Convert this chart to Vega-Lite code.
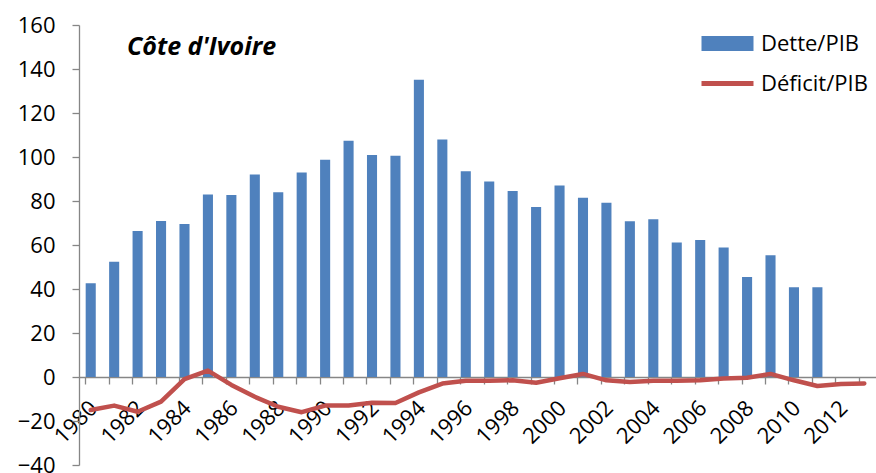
{
  "$schema": "https://vega.github.io/schema/vega-lite/v6.json",
  "width": 797,
  "height": 440,
  "autosize": "none",
  "padding": {"left": 79, "top": 25, "right": 0, "bottom": 8},
  "background": "white",
  "config": {"view": {"stroke": null}, "font": "Open Sans"},
  "title": {"text": "Côte d'Ivoire", "anchor": "start", "frame": "group", "orient": "top", "offset": -46, "dx": 48, "fontSize": 25, "fontStyle": "italic", "fontWeight": "bold", "font": "Open Sans", "color": "black"},
  "data": {"values": [
    {"year": 1980, "dette": 42.6, "deficit": -15.0},
    {"year": 1981, "dette": 52.4, "deficit": -13.0},
    {"year": 1982, "dette": 66.4, "deficit": -15.8},
    {"year": 1983, "dette": 70.9, "deficit": -11.2},
    {"year": 1984, "dette": 69.5, "deficit": -1.0},
    {"year": 1985, "dette": 83.0, "deficit": 2.9},
    {"year": 1986, "dette": 82.7, "deficit": -3.6},
    {"year": 1987, "dette": 92.1, "deficit": -9.0},
    {"year": 1988, "dette": 84.0, "deficit": -13.5},
    {"year": 1989, "dette": 93.0, "deficit": -16.0},
    {"year": 1990, "dette": 98.8, "deficit": -13.0},
    {"year": 1991, "dette": 107.4, "deficit": -13.0},
    {"year": 1992, "dette": 100.9, "deficit": -11.7},
    {"year": 1993, "dette": 100.6, "deficit": -11.8},
    {"year": 1994, "dette": 135.1, "deficit": -7.0},
    {"year": 1995, "dette": 108.0, "deficit": -3.0},
    {"year": 1996, "dette": 93.5, "deficit": -1.7},
    {"year": 1997, "dette": 88.9, "deficit": -1.7},
    {"year": 1998, "dette": 84.5, "deficit": -1.5},
    {"year": 1999, "dette": 77.3, "deficit": -2.6},
    {"year": 2000, "dette": 87.1, "deficit": -0.6},
    {"year": 2001, "dette": 81.5, "deficit": 1.4},
    {"year": 2002, "dette": 79.2, "deficit": -1.5},
    {"year": 2003, "dette": 70.8, "deficit": -2.3},
    {"year": 2004, "dette": 71.7, "deficit": -1.7},
    {"year": 2005, "dette": 61.1, "deficit": -1.7},
    {"year": 2006, "dette": 62.3, "deficit": -1.5},
    {"year": 2007, "dette": 58.9, "deficit": -0.7},
    {"year": 2008, "dette": 45.5, "deficit": -0.3},
    {"year": 2009, "dette": 55.3, "deficit": 1.4},
    {"year": 2010, "dette": 40.8, "deficit": -1.5},
    {"year": 2011, "dette": 40.8, "deficit": -4.1},
    {"year": 2012, "dette": null, "deficit": -3.2},
    {"year": 2013, "dette": null, "deficit": -2.9}
  ]},
  "encoding": {
    "x": {
      "field": "year", "type": "ordinal",
      "scale": {"paddingInner": 0.57, "paddingOuter": 0.285},
      "axis": {
        "title": null, "offset": -88, "bandPosition": 0,
        "labelAngle": -45, "labelAlign": "right", "labelBaseline": "top",
        "labelOffset": -4, "labelPadding": 13, "tickSize": 7,
        "tickColor": "#868686", "domainColor": "#868686", "domainWidth": 1.3, "tickWidth": 1.3,
        "labelFontSize": 22, "labelColor": "black", "labelFont": "Open Sans",
        "labelExpr": "datum.value % 2 == 0 ? datum.label : ''",
        "labelOverlap": false, "labelBound": false
      }
    }
  },
  "layer": [
    {
      "mark": {"type": "bar"},
      "encoding": {
        "y": {
          "field": "dette", "type": "quantitative", "title": null,
          "scale": {"domain": [-40, 160], "nice": false},
          "axis": {
            "values": [-40, -20, 0, 20, 40, 60, 80, 100, 120, 140, 160],
            "tickSize": 7, "labelPadding": 17, "labelFontSize": 22, "labelFont": "Open Sans",
            "domainColor": "#868686", "tickColor": "#868686", "domainWidth": 1.3, "tickWidth": 1.3,
            "grid": false, "labelColor": "black"
          }
        },
        "color": {
          "datum": "Dette/PIB",
          "scale": {"domain": ["Dette/PIB", "Déficit/PIB"], "range": ["#4F81BD", "#C0504D"]},
          "legend": {
            "orient": "none", "legendX": 632, "legendY": 2, "title": null,
            "labelFontSize": 22, "labelColor": "black", "labelFont": "Open Sans",
            "symbolSize": 1056, "rowPadding": 12, "labelOffset": 17, "padding": 0,
            "symbolStrokeWidth": 0, "symbolOpacity": 1,
            "encode": {"symbols": {"update": {
              "shape": {"signal": "datum.value === 'Dette/PIB' ? 'M-1.6,-0.46H1.6V0.46H-1.6Z' : 'M-1.6,-0.15H1.6V0.15H-1.6Z'"},
              "fill": {"scale": "color", "field": "value"},
              "strokeWidth": {"value": 0}
            }}}
          }
        }
      }
    },
    {
      "mark": {"type": "line", "strokeWidth": 4.5, "strokeJoin": "round", "strokeCap": "round"},
      "encoding": {
        "y": {"field": "deficit", "type": "quantitative", "title": null},
        "color": {"datum": "Déficit/PIB"}
      }
    }
  ]
}
